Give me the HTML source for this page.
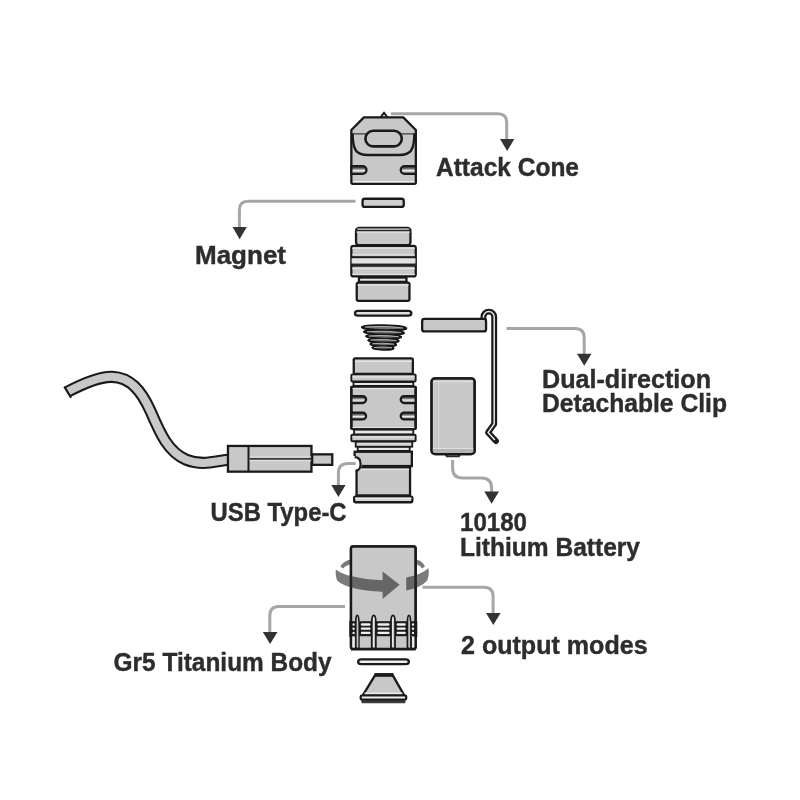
<!DOCTYPE html>
<html><head><meta charset="utf-8">
<style>
html,body{margin:0;padding:0;background:#fff;}
body{width:800px;height:800px;overflow:hidden;}
svg{display:block;will-change:transform;}
text{font-family:"Liberation Sans",sans-serif;font-weight:bold;font-size:25px;fill:#2d2d2d;stroke:#2d2d2d;stroke-width:0.4px;}
.ld{fill:none;stroke:#a6a6a6;stroke-width:3;stroke-linecap:butt;stroke-linejoin:round;}
.ah{fill:#333;}
</style></head><body>
<svg width="800" height="800" viewBox="0 0 800 800">
<defs>
<linearGradient id="notch" x1="0" y1="0" x2="0" y2="1">
<stop offset="0.22" stop-color="#505050"/><stop offset="0.42" stop-color="#9a9a9a"/><stop offset="0.55" stop-color="#f2f2f2"/><stop offset="0.78" stop-color="#a8a8a8"/>
</linearGradient>
<linearGradient id="notch2" x1="0" y1="0" x2="0" y2="1">
<stop offset="0" stop-color="#505050"/><stop offset="0.4" stop-color="#9a9a9a"/><stop offset="0.58" stop-color="#f2f2f2"/><stop offset="1" stop-color="#a8a8a8"/>
</linearGradient>
</defs>
<rect width="800" height="800" fill="#fff"/>
<g id="cone">
<path d="M380.4,117.6 L384,112.4 L387.6,117.6 Z" fill="#e8e8e8" stroke="#1a1a1a" stroke-width="1.8" stroke-linejoin="round"/>
<path d="M363.95,117.35000000000001 H403.25 L415.85,129.95000000000002 V182.35 Q415.85,183.85 414.35,183.85 H352.84999999999997 Q351.34999999999997,183.85 351.34999999999997,182.35 V129.95000000000002 Z" fill="#c8c8c8" stroke="#1a1a1a" stroke-width="2.3" stroke-linejoin="round"/>
<path d="M351.34999999999997,166.15 H362.6 A3.8499999999999943,3.8499999999999943 0 0 1 362.6,173.85 H351.34999999999997" fill="url(#notch)" stroke="#1a1a1a" stroke-width="2.3" stroke-linejoin="round"/>
<path d="M415.85,166.15 H404.6 A3.8499999999999943,3.8499999999999943 0 0 0 404.6,173.85 H415.85" fill="url(#notch)" stroke="#1a1a1a" stroke-width="2.3" stroke-linejoin="round"/>
<path d="M351.34999999999997,165.15 V174.85 M415.85,165.15 V174.85" stroke="#1a1a1a" stroke-width="2.3"/>
<path d="M352.95,181.65 H414.25" stroke="#eeeeee" stroke-width="1.2"/>
<line x1="352.34999999999997" y1="133.9" x2="414.85" y2="133.9" stroke="#3a3a3a" stroke-width="1.2"/>
<path d="M352.6,133.6 C352.8,150 356,155 368,155 H399 C411,155 414.2,150 414.4,133.6" fill="none" stroke="#1a1a1a" stroke-width="2.4"/>
<rect x="365.4" y="130.8" width="36.4" height="15.6" rx="7.8" fill="#c8c8c8" stroke="#1a1a1a" stroke-width="2.6"/>
</g>
<rect x="362.55" y="198.75" width="41.20" height="8.20" rx="2.2" fill="#cfcfcf" stroke="#1a1a1a" stroke-width="2.3" />
<g id="head">
<rect x="356.05" y="227.95" width="54.40" height="17.30" rx="3" fill="#c8c8c8" stroke="#1a1a1a" stroke-width="2.3" />
<path d="M357.2,229.0 H409.3 M356.4,232.0 H410.1" stroke="#eeeeee" stroke-width="1"/>
<path d="M356.4,230.5 H410.1" stroke="#2a2a2a" stroke-width="1.3"/>
<rect x="351.35" y="245.95" width="64.40" height="30.50" rx="2.2" fill="#c8c8c8" stroke="#1a1a1a" stroke-width="2.3" />
<path d="M352,248.2 H415 M352,254.8 H415 M352,268.6 H415 M352,274.4 H415" stroke="#e8e8e8" stroke-width="1"/>
<rect x="351.6" y="256.2" width="63.9" height="2.2" fill="#1a1a1a"/>
<rect x="351.6" y="258.4" width="63.9" height="5.2" fill="#e2e2e2"/>
<rect x="351.6" y="263.6" width="63.9" height="3.2" fill="#262626"/>
<rect x="358.95" y="277.55" width="47.50" height="4.30" rx="0" fill="#e6e6e6" stroke="#1a1a1a" stroke-width="2.3" />
<rect x="356.75" y="282.55" width="52.70" height="18.30" rx="1.8" fill="#c8c8c8" stroke="#1a1a1a" stroke-width="2.3" />
<path d="M357.5,285 H408.7" stroke="#ececec" stroke-width="1"/>
</g>
<rect x="354.95" y="310.95" width="56.40" height="4.70" rx="3.2" fill="#e2e2e2" stroke="#1a1a1a" stroke-width="2.3" />
<g id="spring" fill="none">
<ellipse cx="383.0" cy="347.9" rx="10.6" ry="1.8" transform="rotate(1.5 383.0 347.9)" stroke="#161616" stroke-width="2.1" fill="#707070"/>
<ellipse cx="383.3" cy="344.3" rx="12.9" ry="1.9" transform="rotate(1.5 383.3 344.3)" stroke="#161616" stroke-width="2.1" fill="#707070"/>
<ellipse cx="383.5" cy="340.6" rx="15.2" ry="2.0" transform="rotate(1.5 383.5 340.6)" stroke="#161616" stroke-width="2.1" fill="#707070"/>
<ellipse cx="383.7" cy="336.6" rx="17.6" ry="2.1" transform="rotate(1.5 383.7 336.6)" stroke="#161616" stroke-width="2.1" fill="#707070"/>
<ellipse cx="384.0" cy="332.4" rx="20.0" ry="2.2" transform="rotate(1.5 384.0 332.4)" stroke="#161616" stroke-width="2.1" fill="#707070"/>
<ellipse cx="384.1" cy="327.8" rx="22.2" ry="2.4" transform="rotate(1.5 384.1 327.8)" stroke="#161616" stroke-width="2.1" fill="#707070"/>
<path d="M373.99,347.63 Q383.0,346.28 392.01,347.63" transform="rotate(1.5 383.0 347.9)" stroke="#b4b4b4" stroke-width="1.0"/>
<path d="M372.33500000000004,344.015 Q383.3,342.59000000000003 394.265,344.015" transform="rotate(1.5 383.3 344.3)" stroke="#b4b4b4" stroke-width="1.0"/>
<path d="M370.58,340.3 Q383.5,338.8 396.42,340.3" transform="rotate(1.5 383.5 340.6)" stroke="#b4b4b4" stroke-width="1.0"/>
<path d="M368.74,336.285 Q383.7,334.71000000000004 398.65999999999997,336.285" transform="rotate(1.5 383.7 336.6)" stroke="#b4b4b4" stroke-width="1.0"/>
<path d="M367.0,332.07 Q384.0,330.41999999999996 401.0,332.07" transform="rotate(1.5 384.0 332.4)" stroke="#b4b4b4" stroke-width="1.0"/>
<path d="M365.23,327.44 Q384.1,325.64 402.97,327.44" transform="rotate(1.5 384.1 327.8)" stroke="#b4b4b4" stroke-width="1.0"/>
</g>
<g id="body">
<rect x="353.75" y="358.35" width="59.10" height="15.50" rx="1.4" fill="#c8c8c8" stroke="#1a1a1a" stroke-width="2.3" />
<path d="M355,361.2 H412" stroke="#eeeeee" stroke-width="1.1"/>
<rect x="351.35" y="386.55" width="64.30" height="42.50" rx="1.2" fill="#c8c8c8" stroke="#1a1a1a" stroke-width="2.3" />
<path d="M351.34999999999997,396.15 H362.6 A3.450000000000017,3.450000000000017 0 0 1 362.6,403.05 H351.34999999999997" fill="url(#notch)" stroke="#1a1a1a" stroke-width="2.3" stroke-linejoin="round"/>
<path d="M415.65000000000003,396.15 H404.20000000000005 A3.450000000000017,3.450000000000017 0 0 0 404.20000000000005,403.05 H415.65000000000003" fill="url(#notch)" stroke="#1a1a1a" stroke-width="2.3" stroke-linejoin="round"/>
<path d="M351.34999999999997,412.54999999999995 H362.59999999999997 A3.4500000000000455,3.4500000000000455 0 0 1 362.59999999999997,419.45000000000005 H351.34999999999997" fill="url(#notch)" stroke="#1a1a1a" stroke-width="2.3" stroke-linejoin="round"/>
<path d="M415.65000000000003,412.54999999999995 H404.20000000000005 A3.4500000000000455,3.4500000000000455 0 0 0 404.20000000000005,419.45000000000005 H415.65000000000003" fill="url(#notch)" stroke="#1a1a1a" stroke-width="2.3" stroke-linejoin="round"/>
<path d="M351.34999999999997,386.4 V429.2 M415.65000000000003,386.4 V429.2" stroke="#1a1a1a" stroke-width="2.3"/>
<path d="M352.6,388.6 H414.4 M352.6,427.6 H414.4" stroke="#e6e6e6" stroke-width="1"/>
<rect x="351.35" y="374.35" width="64.30" height="7.10" rx="1" fill="#c8c8c8" stroke="#1a1a1a" stroke-width="1.9" />
<path d="M352.4,376.9 H414.6" stroke="#ebebeb" stroke-width="1"/>
<rect x="353.50" y="382.10" width="59.80" height="3.80" rx="0" fill="#e6e6e6" stroke="#1a1a1a" stroke-width="1.8" />
<rect x="354.10" y="429.70" width="59.20" height="4.80" rx="0" fill="#e6e6e6" stroke="#1a1a1a" stroke-width="1.8" />
<rect x="351.35" y="434.75" width="64.30" height="6.50" rx="1" fill="#c8c8c8" stroke="#1a1a1a" stroke-width="1.9" />
<path d="M352.4,437 H414.6" stroke="#ebebeb" stroke-width="1"/>
<rect x="355.70" y="441.70" width="56.60" height="5.00" rx="0" fill="#d8d8d8" stroke="#1a1a1a" stroke-width="1.8" />
<rect x="357.70" y="446.90" width="52.00" height="4.00" rx="0" fill="#e6e6e6" stroke="#1a1a1a" stroke-width="1.8" />
<rect x="354.65" y="451.75" width="57.20" height="14.30" rx="0" fill="#c8c8c8" stroke="#1a1a1a" stroke-width="2.3" />
<rect x="356.55" y="467.15" width="53.50" height="28.30" rx="0" fill="#c8c8c8" stroke="#1a1a1a" stroke-width="2.3" />
<path d="M357.4,469.6 H409.2" stroke="#e6e6e6" stroke-width="1"/>
<path d="M350,456.0 H354.8 C359.8,456.0 361.8,460 361.8,464 C361.8,468 359.8,471.6 355.4,471.6 H350 Z" fill="#fff"/>
<path d="M354.65,457.2 H354.8 C358.9,457.2 360.6,460.4 360.6,464 C360.6,467.6 358.9,470.5 356.54999999999995,470.5 V472" fill="none" stroke="#1a1a1a" stroke-width="2.3" stroke-linejoin="round"/>
<rect x="354.15" y="496.55" width="58.20" height="5.70" rx="1.2" fill="#d6d6d6" stroke="#1a1a1a" stroke-width="2.3" />
<path d="M355,498.2 H411.5" stroke="#f0f0f0" stroke-width="1.2"/>
</g>
<path d="M67.2,391.9 C88,381 101,376.4 112,376.8 C130,377.4 141,390 150.5,411 C160,433 168,452 186,459.6 C202,466 214,461.5 228,459.7" fill="none" stroke="#1a1a1a" stroke-width="12.2" stroke-linecap="butt"/>
<path d="M67.2,391.9 C88,381 101,376.4 112,376.8 C130,377.4 141,390 150.5,411 C160,433 168,452 186,459.6 C202,466 214,461.5 228,459.7" fill="none" stroke="#c8c8c8" stroke-width="8.0" stroke-linecap="butt"/>
<path d="M64.9,387.5 L70.5,396.8" stroke="#1a1a1a" stroke-width="2.2" stroke-linecap="square"/>
<rect x="312.15" y="454.35" width="20.10" height="10.50" rx="0" fill="#c8c8c8" stroke="#1a1a1a" stroke-width="2.3" />
<rect x="227.95" y="445.95" width="83.50" height="25.70" rx="0" fill="#c8c8c8" stroke="#1a1a1a" stroke-width="2.3" />
<path d="M248.5,446 V471.6" stroke="#1a1a1a" stroke-width="2"/>
<path d="M249.8,456.9 H311.2 M249.8,460.7 H311.2" stroke="#e4e4e4" stroke-width="1"/>
<path d="M249.6,458.8 H311.4" stroke="#3c3c3c" stroke-width="1.8"/>
<path d="M483.4,320 V317 A5.4,5.4 0 0 1 494.2,317 V424 L488,432.6 L495.9,441.1" fill="none" stroke="#1a1a1a" stroke-width="5.9" stroke-linejoin="round" stroke-linecap="round"/>
<path d="M483.4,320 V317 A5.4,5.4 0 0 1 494.2,317 V424 L488,432.6 L494.9,440" fill="none" stroke="#e4e4e4" stroke-width="1.5" stroke-linejoin="round"/>
<rect x="422.15" y="318.95" width="63.90" height="12.50" rx="2.2" fill="#c8c8c8" stroke="#1a1a1a" stroke-width="2.3" />
<path d="M443.4,452.6 L446.2,457.2 H459.4 L462.2,452.6 Z" fill="#2a2a2a"/>
<path d="M447.6,455.2 H458" stroke="#8a8a8a" stroke-width="1"/>
<rect x="431.55" y="378.35" width="43.10" height="75.70" rx="3.4" fill="#c8c8c8" stroke="#1a1a1a" stroke-width="2.3" />
<path d="M433.4,381.6 H472.8 M432.4,448.4 H473.8" stroke="#e2e2e2" stroke-width="1"/>
<path d="M433.2,381 V451 M438.8,381 V448" stroke="#dcdcdc" stroke-width="0.9"/>
<rect x="431.6" y="449.2" width="43" height="4" fill="#b4b4b4"/>
<rect x="431.55" y="378.35" width="43.10" height="75.70" rx="3.4" fill="none" stroke="#1a1a1a" stroke-width="2.3" />
<g id="tail">
<rect x="350.95" y="546.35" width="64.70" height="102.50" rx="2.2" fill="#c8c8c8" stroke="#1a1a1a" stroke-width="2.3" />
<rect x="351.2" y="621.2" width="64.2" height="15.4" fill="#1e1e1e"/>
<rect x="351.2" y="636.4" width="64.2" height="12.2" fill="#c6c6c6"/>
<rect x="360.8" y="623.35" width="9.800000000000011" height="2.3" rx="1.1" fill="#f0f0f0"/>
<rect x="377.4" y="623.35" width="12.200000000000045" height="2.3" rx="1.1" fill="#f0f0f0"/>
<rect x="396.6" y="623.35" width="9.199999999999989" height="2.3" rx="1.1" fill="#f0f0f0"/>
<circle cx="353.6" cy="624.5" r="1.2" fill="#f0f0f0"/>
<circle cx="413.0" cy="624.5" r="1.2" fill="#f0f0f0"/>
<rect x="360.8" y="627.5500000000001" width="9.800000000000011" height="2.3" rx="1.1" fill="#f0f0f0"/>
<rect x="377.4" y="627.5500000000001" width="12.200000000000045" height="2.3" rx="1.1" fill="#f0f0f0"/>
<rect x="396.6" y="627.5500000000001" width="9.199999999999989" height="2.3" rx="1.1" fill="#f0f0f0"/>
<circle cx="353.6" cy="628.7" r="1.2" fill="#f0f0f0"/>
<circle cx="413.0" cy="628.7" r="1.2" fill="#f0f0f0"/>
<rect x="360.8" y="631.75" width="9.800000000000011" height="2.3" rx="1.1" fill="#f0f0f0"/>
<rect x="377.4" y="631.75" width="12.200000000000045" height="2.3" rx="1.1" fill="#f0f0f0"/>
<rect x="396.6" y="631.75" width="9.199999999999989" height="2.3" rx="1.1" fill="#f0f0f0"/>
<circle cx="353.6" cy="632.9" r="1.2" fill="#f0f0f0"/>
<circle cx="413.0" cy="632.9" r="1.2" fill="#f0f0f0"/>
<rect x="352.6" y="637.2" width="2.4" height="10.6" fill="#ececec"/>
<rect x="412.0" y="637.2" width="2.4" height="10.6" fill="#ececec"/>
<path d="M355.8,637 V648 M411.2,637 V648" stroke="#1a1a1a" stroke-width="1.4"/>
<path d="M357.3,615.4 C358.35,615.4 358.8,619 358.8,622.5 V648.4 H355.8 V622.5 C355.8,619 356.25,615.4 357.3,615.4 Z" fill="#e9e9e9" stroke="#1a1a1a" stroke-width="1.8" stroke-linejoin="round"/>
<path d="M357.90000000000003,621 V648" stroke="#c0c0c0" stroke-width="1"/>
<path d="M373.8,615.4 C375.2,615.4 375.8,619 375.8,622.5 V648.4 H371.8 V622.5 C371.8,619 372.40000000000003,615.4 373.8,615.4 Z" fill="#e9e9e9" stroke="#1a1a1a" stroke-width="1.8" stroke-linejoin="round"/>
<path d="M374.40000000000003,621 V648" stroke="#c0c0c0" stroke-width="1"/>
<path d="M393.0,615.4 C394.4,615.4 395.0,619 395.0,622.5 V648.4 H391.0 V622.5 C391.0,619 391.6,615.4 393.0,615.4 Z" fill="#e9e9e9" stroke="#1a1a1a" stroke-width="1.8" stroke-linejoin="round"/>
<path d="M393.6,621 V648" stroke="#c0c0c0" stroke-width="1"/>
<path d="M409.0,615.4 C410.05,615.4 410.5,619 410.5,622.5 V648.4 H407.5 V622.5 C407.5,619 407.95,615.4 409.0,615.4 Z" fill="#e9e9e9" stroke="#1a1a1a" stroke-width="1.8" stroke-linejoin="round"/>
<path d="M409.6,621 V648" stroke="#c0c0c0" stroke-width="1"/>
<path d="M351,649.2 H415.6" stroke="#1a1a1a" stroke-width="2.6"/>
<path d="M350.6,621 V637 M416,621 V637" stroke="#1a1a1a" stroke-width="2.6"/>
<rect x="350.95" y="546.35" width="64.70" height="102.50" rx="2.2" fill="none" stroke="#1a1a1a" stroke-width="2.3" />
</g>
<g fill="#2a2a2a" fill-opacity="0.62">
<path d="M340.2,566.6 Q343,561.6 350,559.6 L350,564.6 Q345,566 343.2,568.6 Z"/>
<path d="M417,559.8 Q423,561.6 425,566.4 L422,568.6 Q420.4,565.6 417,564.6 Z"/>
<path d="M335.8,569.4 Q347,578.2 382.6,580.2 V571.6 L399.6,584.8 L382.6,599 V591.8 Q348,590 337.6,581 Q335.2,577 335.8,569.4 Z"/>
<path d="M406.2,577.4 Q422,574.6 428.4,568 Q429.6,576 427,580.8 Q421,587.6 406.2,590.6 Z"/>
</g>
<rect x="358.15" y="659.45" width="50.70" height="4.70" rx="3.2" fill="#f0f0f0" stroke="#1a1a1a" stroke-width="2.3" />
<path d="M375.6,674.4 H392.2 L404.4,695.6 H362.6 Z" fill="#c8c8c8" stroke="#1a1a1a" stroke-width="2.3" stroke-linejoin="round"/>
<rect x="374.6" y="673.2" width="18.8" height="3.6" fill="#1a1a1a"/>
<path d="M364.6,693.2 H402.4" stroke="#e8e8e8" stroke-width="1.4"/>
<rect x="361.4" y="699.4" width="44.1" height="3.8" rx="0.8" fill="#3a3a3a"/>
<rect x="360.70" y="695.50" width="45.50" height="4.00" rx="1" fill="#efefef" stroke="#1a1a1a" stroke-width="2.2" />

<g id="leaders">
<path class="ld" d="M391,113.7 H498 Q506.7,113.7 506.7,122.5 V140"/>
<polygon class="ah" points="500,139 514.3,139 507.2,151"/>
<path class="ld" d="M355.5,201.3 H248 Q239.4,201.3 239.4,210 V228"/>
<polygon class="ah" points="232.6,227.1 246.8,227.1 239.6,239.2"/>
<path class="ld" d="M506.5,328.4 H575 Q584.2,328.4 584.2,337.5 V355"/>
<polygon class="ah" points="577,353.7 591.5,353.7 584.2,365.7"/>
<path class="ld" d="M355.6,463.4 H348 Q338.4,463.4 338.4,473 V486"/>
<polygon class="ah" points="331.3,485 345.6,485 338.4,497"/>
<path class="ld" d="M452.6,460 V468 Q452.6,478 462.6,478 H481.6 Q491.6,478 491.6,488 V493"/>
<polygon class="ah" points="484.3,491.5 499,491.5 491.6,503.7"/>
<path class="ld" d="M345,606.6 H279 Q269.8,606.6 269.8,615.8 V633"/>
<polygon class="ah" points="262.8,632.1 277.5,632.1 270.1,644"/>
<path class="ld" d="M422.5,587.3 H484 Q493.1,587.3 493.1,596.4 V614"/>
<polygon class="ah" points="486,612.9 500.6,612.9 493.3,625"/>
</g>


<g id="labels">
<text x="436" y="176" textLength="143" lengthAdjust="spacingAndGlyphs">Attack Cone</text>
<text x="195" y="263.5" textLength="91" lengthAdjust="spacingAndGlyphs">Magnet</text>
<text x="542" y="388" textLength="169" lengthAdjust="spacingAndGlyphs">Dual-direction</text>
<text x="542" y="411.6" textLength="185" lengthAdjust="spacingAndGlyphs">Detachable Clip</text>
<text x="210.6" y="521.3" textLength="136" lengthAdjust="spacingAndGlyphs">USB Type-C</text>
<text x="460" y="531.3" textLength="67" lengthAdjust="spacingAndGlyphs">10180</text>
<text x="460" y="555.5" textLength="180" lengthAdjust="spacingAndGlyphs">Lithium Battery</text>
<text x="113.6" y="670.6" textLength="218" lengthAdjust="spacingAndGlyphs">Gr5 Titanium Body</text>
<text x="461" y="653.8" textLength="186.6" lengthAdjust="spacingAndGlyphs">2 output modes</text>
</g>

</svg>
</body></html>
